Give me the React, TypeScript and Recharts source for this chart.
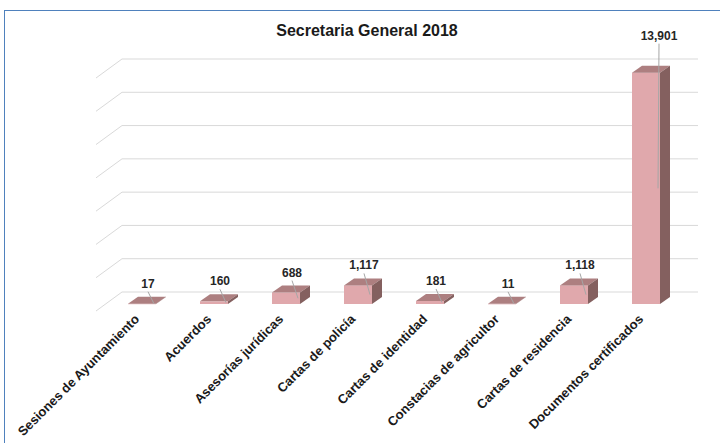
import React from 'react';
import { BarChart, Bar, XAxis, YAxis, CartesianGrid, LabelList } from 'recharts';

const categories = [
  'Sesiones de Ayuntamiento',
  'Acuerdos',
  'Asesorías jurídicas',
  'Cartas de policía',
  'Cartas de identidad',
  'Constacias de agricultor',
  'Cartas de residencia',
  'Documentos certificados',
];
const totals = [17, 160, 688, 1117, 181, 11, 1118, 13901];
const yTicks = [0, 2000, 4000, 6000, 8000, 10000, 12000, 14000];

const data = categories.map((name, i) => ({ name, total: totals[i] }));

// 3d offsets
const DX = 10;
const DY = 7;

const FONT = '"Liberation Sans", Arial, sans-serif';

function Box(props: any) {
  const { x, y, width: w, height: h } = props;
  return (
    <g>
      <rect x={x} y={y} width={w} height={Math.max(h, 0.5)} fill="#E0A8AC" />
      <polygon
        points={`${x},${y} ${x + DX},${y - DY} ${x + w + DX},${y - DY} ${x + w},${y}`}
        fill="#AD7F80"
      />
      <polygon
        points={`${x + w},${y} ${x + w + DX},${y - DY} ${x + w + DX},${y + h - DY} ${x + w},${y + h}`}
        fill="#84605F"
      />
    </g>
  );
}

function GridLine(props: any) {
  const { x1, x2, y1 } = props;
  return (
    <path
      key={props.key}
      d={`M${x1 - 10},${y1 + 7} L${x1 + 16},${y1 - 12} L${x2 + 16},${y1 - 12}`}
      stroke="#D9D9D9"
      strokeWidth={1}
      fill="none"
    />
  );
}

function ValueLabel(props: any) {
  const { x, y, width, height, value } = props;
  const cx = x + width / 2;
  const off = height > 100 ? 37 : 20;
  const lx = cx + (height > 100 ? 13 : 6);
  const ly = y - off;
  return (
    <g>
      <line x1={lx} y1={ly + 8} x2={cx + 12} y2={y + height / 2} stroke="#A6A6A6" strokeWidth={1} />
      <text
        x={lx}
        y={ly + 4}
        textAnchor="middle"
        fontFamily={FONT}
        fontWeight="bold"
        fontSize={12}
        fill="#262626"
      >
        {Number(value).toLocaleString('en-US')}
      </text>
    </g>
  );
}

function CatTick(props: any) {
  const { x, y, payload } = props;
  return (
    <text
      x={x - 2}
      y={y}
      transform={`rotate(-45, ${x - 2}, ${y})`}
      textAnchor="end"
      fontFamily={FONT}
      fontWeight="bold"
      fontSize={13}
      fill="#1a1a1a"
    >
      {payload.value}
    </text>
  );
}

export default function App() {
  return (
    <div style={{ position: 'absolute', left: 0, top: 0, width: 720, height: 443, background: '#fff', overflow: 'hidden' }}>
      <div
        style={{
          position: 'absolute',
          left: 4,
          top: 10,
          width: 740,
          height: 460,
          borderTop: '1.5px solid #4F81BD',
          borderLeft: '1.5px solid #4F81BD',
        }}
      />
      <div
        style={{
          position: 'absolute',
          left: 0,
          top: 22,
          width: 734,
          textAlign: 'center',
          fontFamily: FONT,
          fontWeight: 'bold',
          fontSize: 16,
          color: '#1a1a1a',
        }}
      >
        Secretaria General 2018
      </div>
      <div style={{ position: 'absolute', left: 0, top: 0 }}>
        <BarChart
          width={720}
          height={443}
          data={data}
          margin={{ top: 71, right: 38, bottom: 109, left: 106 }}
          barSize={28}
        >
          <CartesianGrid vertical={false} horizontal={(p: any) => <GridLine {...p} />} />
          <XAxis
            dataKey="name"
            axisLine={false}
            tickLine={false}
            tickSize={0}
            tickMargin={16}
            interval={0}
            tick={<CatTick />}
          />
          <YAxis hide domain={[0, 14000]} ticks={yTicks} />
          <Bar dataKey="total" shape={<Box />} isAnimationActive={false}>
            <LabelList dataKey="total" content={<ValueLabel />} />
          </Bar>
        </BarChart>
      </div>
    </div>
  );
}
